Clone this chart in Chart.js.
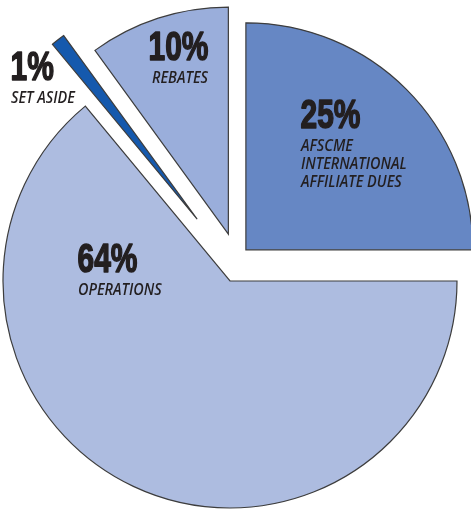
<!DOCTYPE html>
<html>
<head>
<meta charset="utf-8">
<script src="https://cdn.jsdelivr.net/npm/chart.js@4.4.1/dist/chart.umd.min.js"></script>
<style>
    html, body { margin: 0; padding: 0; background: #fff; }
    canvas { display: block; }
</style>
</head>
<body>
<canvas id="duesChart" width="471" height="513"></canvas>
<script>
// slices, clockwise from 12 o'clock
const categories = ['AFSCME INTERNATIONAL AFFILIATE DUES', 'OPERATIONS', 'SET ASIDE', 'REBATES'];
const shares = [25, 64, 1, 10];

// label text, split into lines
const nameLines = [
    ['AFSCME', 'INTERNATIONAL', 'AFFILIATE DUES'],
    ['OPERATIONS'],
    ['SET ASIDE'],
    ['REBATES']
];

// colours
const sliceColors = ['#6687c4', '#adbce0', '#1559ad', '#9aaedb'];
const edgeColor = '#3d3d3d';
const textColor = '#231f20';

// how far each slice is pulled out (px) and in which direction (deg, clockwise from top)
const explode = [
    { dist: 35, angle: 27 },
    { dist: 0, angle: 0 },
    { dist: 70, angle: -28 },
    { dist: 47, angle: -2 }
];

// where the text block of each slice starts (left x, baseline of the big number)
const labelAnchor = [[300, 128], [77, 272], [10, 80], [148, 60]];

// pull slices out from the centre
const explodePlugin = {
    id: 'explode',
    afterDatasetUpdate(chart, args) {
        args.meta.data.forEach((arc, i) => {
            const s = explode[i];
            if (!s || !s.dist) return;
            const a = (s.angle - 90) * Math.PI / 180;
            arc.x += Math.cos(a) * s.dist;
            arc.y += Math.sin(a) * s.dist;
        });
    }
};

// text squeezed horizontally to get a condensed face
function narrowText(ctx, text, x, y, sx, weight) {
    ctx.save();
    ctx.translate(x, y);
    ctx.scale(sx, 1);
    ctx.fillText(text, 0, 0);
    if (weight) {
        ctx.lineWidth = weight;
        ctx.lineJoin = 'round';
        ctx.strokeText(text, 0, 0);
    }
    ctx.restore();
}

// big percentage + caption for every slice
const labelPlugin = {
    id: 'sliceLabels',
    afterDatasetsDraw(chart) {
        const ctx = chart.ctx;
        ctx.save();
        ctx.fillStyle = textColor;
        ctx.strokeStyle = textColor;
        ctx.textAlign = 'left';
        ctx.textBaseline = 'alphabetic';
        shares.forEach((v, i) => {
            const [x, y] = labelAnchor[i];
            ctx.font = 'bold 41px "Liberation Sans", Arial, sans-serif';
            narrowText(ctx, v + '%', x + 0.5, y - 0.5, 0.73, 1.6);
            ctx.font = 'italic 600 16px "Open Sans", sans-serif';
            const dx = i === 3 ? 4 : 1;
            nameLines[i].forEach((line, j) => {
                narrowText(ctx, line, x + dx, y + 23 + j * 18, 0.9);
            });
        });
        ctx.restore();
    }
};

new Chart(document.getElementById('duesChart'), {
    type: 'pie',
    data: {
        labels: categories,
        datasets: [{
            data: shares,
            backgroundColor: sliceColors,
            borderColor: edgeColor,
            borderWidth: 1.2,
            borderJoinStyle: 'miter',
            clip: false
        }]
    },
    options: {
        responsive: false,
        devicePixelRatio: 1,
        animation: false,
        events: [],
        radius: 227,
        layout: { padding: { left: 0, right: 11, top: 49, bottom: 0 } },
        plugins: {
            legend: { display: false },
            tooltip: { enabled: false }
        }
    },
    plugins: [explodePlugin, labelPlugin]
});
</script>
</body>
</html>
